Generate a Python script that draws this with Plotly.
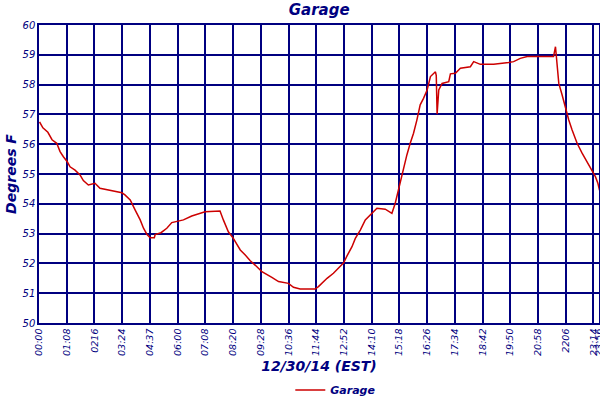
import plotly.graph_objects as go

# sample position (in tick intervals) and temperature
pos = [0.02, 0.14, 0.32, 0.47, 0.64, 0.76, 0.88, 1.02, 1.12, 1.30, 1.48, 1.60,
       1.78, 2.02, 2.20, 2.56, 2.99, 3.10, 3.29, 3.47, 3.65, 3.77, 3.89, 4.01,
       4.16, 4.19, 4.40, 4.61, 4.79, 5.21, 5.51, 5.99, 6.53, 6.65, 6.83, 7.01,
       7.26, 7.44, 7.62, 7.86, 8.04, 8.40, 8.64, 9.00, 9.18, 9.42, 9.96, 10.08,
       10.26, 10.39, 10.62, 10.81, 10.99, 11.11, 11.29, 11.41, 11.59, 11.77,
       12.01, 12.19, 12.49, 12.73, 12.85, 12.92, 13.03, 13.15, 13.27, 13.39,
       13.51, 13.63, 13.75, 13.87, 14.00, 14.12, 14.30, 14.33, 14.36, 14.42,
       14.54, 14.78, 14.84, 15.02, 15.20, 15.56, 15.68, 15.92, 16.40, 16.94,
       17.12, 17.36, 17.61, 18.33, 18.56, 18.63, 18.69, 18.75, 18.87, 18.99,
       19.11, 19.23, 19.41, 19.59, 19.77, 19.95, 20.07, 20.16, 20.22]
temp = [56.75, 56.55, 56.40, 56.15, 56.03, 55.75, 55.58, 55.41, 55.24, 55.13,
        54.97, 54.78, 54.63, 54.69, 54.52, 54.46, 54.37, 54.30, 54.13, 53.79,
        53.46, 53.18, 52.98, 52.86, 52.86, 52.97, 53.03, 53.18, 53.37, 53.46,
        53.59, 53.73, 53.76, 53.46, 53.06, 52.84, 52.45, 52.28, 52.09, 51.89,
        51.72, 51.53, 51.39, 51.33, 51.20, 51.14, 51.14, 51.22, 51.39, 51.50,
        51.67, 51.84, 52.02, 52.25, 52.56, 52.84, 53.12, 53.46, 53.68, 53.85,
        53.82, 53.68, 54.02, 54.30, 54.74, 55.19, 55.64, 56.03, 56.37, 56.81,
        57.32, 57.54, 57.82, 58.27, 58.43, 58.30, 57.01, 57.82, 58.04, 58.10,
        58.36, 58.38, 58.55, 58.60, 58.77, 58.68, 58.68, 58.74, 58.77, 58.88,
        58.94, 58.94, 58.94, 59.27, 58.71, 58.04, 57.65, 57.20, 56.81, 56.48,
        56.03, 55.70, 55.41, 55.13, 54.91, 54.69, 54.45]

tick_pos = list(range(21)) + [20.2]
tick_text = ["00:00", "01:08", "0216", "03:24", "04:37", "06:00", "07:08",
             "08:20", "09:28", "10:36", "11:44", "12:52", "14:10", "15:18",
             "16:26", "17:34", "18:42", "19:50", "20:58", "2206", "23:14",
             "23:56"]

navy = "#000080"
font = "DejaVu Sans"

fig = go.Figure()
fig.add_trace(go.Scatter(x=pos, y=temp, mode="lines", name="Garage",
                         line=dict(color="#cc0000", width=1.5)))

fig.update_layout(
    width=600, height=400,
    margin=dict(l=39, r=1, t=25, b=77, autoexpand=False),
    paper_bgcolor="white", plot_bgcolor="white",
    title=dict(text="Garage", x=0.532, xanchor="center", y=0.975, yanchor="middle",
               font=dict(family=font, size=15, color=navy, weight="bold", style="italic")),
    showlegend=True,
    legend=dict(orientation="h", x=0.53, xanchor="center", y=-0.225, yanchor="middle",
                itemwidth=30,
                font=dict(family=font, size=11, color=navy, weight="bold", style="italic")),
    xaxis=dict(range=[0, 20.2], tickvals=tick_pos, ticktext=tick_text,
               tickangle=-90, showgrid=True, gridcolor=navy, gridwidth=1.5,
               showline=True, linecolor=navy, linewidth=1.5, mirror=True,
               zeroline=False, ticks="", automargin=False, ticklabeloverflow="allow",
               tickfont=dict(family=font, size=9.5, color=navy, style="italic"),
               title=dict(text="12/30/14 (EST)", standoff=6,
                          font=dict(family=font, size=14, color=navy,
                                    weight="bold", style="italic"))),
    yaxis=dict(range=[50, 60], dtick=1, showgrid=True, gridcolor=navy, gridwidth=1.5,
               showline=True, linecolor=navy, linewidth=1.5, mirror=True,
               zeroline=False, ticks="", automargin=False,
               tickfont=dict(family=font, size=10, color=navy, style="italic"),
               title=dict(text="Degrees F", standoff=3,
                          font=dict(family=font, size=14, color=navy,
                                    weight="bold", style="italic"))),
)

# drop the browser's default 8px body margin so the figure fills the window
fig.write_html("out.html", config={"displayModeBar": False},
               post_script="document.body.style.margin='0px';")
